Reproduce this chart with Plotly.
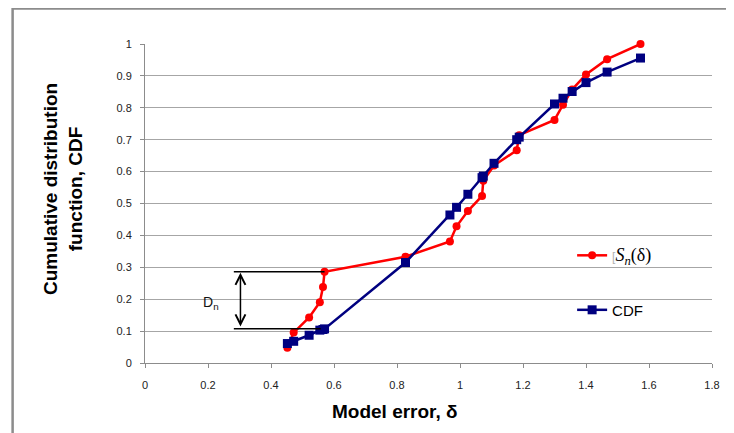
import plotly.graph_objects as go

# Data
model_error = [0.452, 0.472, 0.521, 0.555, 0.565, 0.570, 0.827, 0.968, 0.989, 1.025,
               1.070, 1.074, 1.108, 1.180, 1.188, 1.300, 1.327, 1.356, 1.400, 1.467, 1.573]
sn_values = [i / 21 for i in range(1, 22)]
cdf_values = [0.061, 0.068, 0.087, 0.103, 0.105, 0.107, 0.315, 0.464, 0.488, 0.529,
              0.581, 0.586, 0.626, 0.700, 0.708, 0.812, 0.830, 0.851, 0.879, 0.912, 0.956]
x_ticks = [0, 0.2, 0.4, 0.6, 0.8, 1.0, 1.2, 1.4, 1.6, 1.8]
y_ticks = [0, 0.1, 0.2, 0.3, 0.4, 0.5, 0.6, 0.7, 0.8, 0.9, 1.0]

# Dn = max |Sn - CDF|
diffs = [abs(s - c) for s, c in zip(sn_values, cdf_values)]
idx = diffs.index(max(diffs))
dn_upper = sn_values[idx]
dn_lower = cdf_values[idx]
dn_x_start = 0.282
dn_arrow_x = 0.303

RED = "#FF0000"
NAVY = "#000080"
GRID = "#A6A6A6"

fig = go.Figure()
fig.add_trace(go.Scatter(
    x=model_error, y=sn_values, mode="lines+markers",
    name="<span style='color:#b0b0b0;font-size:12px'>[</span><span style='font-family:Liberation Serif;font-size:18px'><i>S<sub>n</sub></i>(δ)</span>",
    line=dict(color=RED, width=2.5),
    marker=dict(symbol="circle", size=8, color=RED),
    cliponaxis=False, legendgroup="a",
))
fig.add_trace(go.Scatter(
    x=model_error, y=cdf_values, mode="lines+markers", name="CDF",
    line=dict(color=NAVY, width=2.5),
    marker=dict(symbol="square", size=9, color=NAVY),
    cliponaxis=False, legendgroup="b",
))

OFF = 8.0  # page body margin
W = 734.0 - OFF
H = 433.0 - OFF
# plot area in page pixels
L, R, T, B = 144.5, 712.0, 44.3, 362.7
pw, ph = R - L, B - T

def px(xp):
    return (xp - L) / pw

def py(yp):
    return (B - yp) / ph

shapes = [
    # chart border (Excel-style frame)
    dict(type="rect", xref="paper", yref="paper",
         x0=px(12), x1=px(760), y0=py(460), y1=py(OFF + 0.8),
         line=dict(color="#8C8C8C", width=2.5), fillcolor="rgba(0,0,0,0)", layer="above"),
    # legend mask
    dict(type="rect", xref="paper", yref="paper",
         x0=px(562), x1=px(668), y0=py(350), y1=py(215),
         line=dict(width=0), fillcolor="white", layer="between"),
    # Dn label mask
    dict(type="rect", xref="paper", yref="paper",
         x0=px(192), x1=px(233), y0=py(315), y1=py(290),
         line=dict(width=0), fillcolor="white", layer="between"),
    # Dn horizontal lines
    dict(type="line", xref="x", yref="y", x0=dn_x_start, x1=model_error[idx], y0=dn_upper, y1=dn_upper,
         line=dict(color="black", width=1.5), layer="above"),
    dict(type="line", xref="x", yref="y", x0=dn_x_start, x1=model_error[idx] - 0.012, y0=dn_lower, y1=dn_lower,
         line=dict(color="black", width=1.5), layer="above"),
]

annotations = [
    dict(x=dn_arrow_x, y=dn_upper - 0.003, ax=dn_arrow_x, ay=dn_lower + 0.003, xref="x", yref="y",
         axref="x", ayref="y", text="", showarrow=True, arrowside="end+start",
         arrowhead=5, startarrowhead=5, arrowsize=1.3, startarrowsize=1.3,
         arrowwidth=1.5, arrowcolor="black"),
    dict(x=0.208, y=0.188, xref="x", yref="y", text="D<sub>n</sub>", showarrow=False,
         font=dict(family="Liberation Sans", size=14, color="#111")),
    dict(x=px(62.5), y=py(189), xref="paper", yref="paper", textangle=-90,
         text="<b>Cumulative distribution<br>function, CDF</b>", showarrow=False,
         font=dict(family="Liberation Sans", size=19, color="black"),
         xanchor="center", yanchor="middle"),
    dict(x=px(395), y=py(411), xref="paper", yref="paper",
         text="<b>Model error, δ</b>", showarrow=False,
         font=dict(family="Liberation Sans", size=19, color="black"),
         xanchor="center", yanchor="middle"),
]

fig.update_layout(
    width=W, height=H,
    margin=dict(l=L - OFF, r=W - (R - OFF), t=T - OFF, b=H - (B - OFF), pad=0),
    paper_bgcolor="white", plot_bgcolor="white",
    showlegend=True,
    legend=dict(x=px(572), y=py(239), xanchor="left", yanchor="top",
                bgcolor="rgba(0,0,0,0)", borderwidth=0,
                font=dict(family="Liberation Sans", size=15, color="black"),
                tracegroupgap=32, itemwidth=30),
    shapes=shapes, annotations=annotations,
    xaxis=dict(range=[0, 1.8], tickvals=x_ticks, showgrid=False, zeroline=False,
               showline=True, linecolor="#8C8C8C", linewidth=1,
               ticks="outside", ticklen=4, tickcolor="#8C8C8C",
               tickfont=dict(family="Liberation Sans", size=11, color="#222"),
               ticklabelstandoff=8),
    yaxis=dict(range=[0, 1.0], tickvals=y_ticks, showgrid=True, gridcolor=GRID, gridwidth=1,
               zeroline=False, showline=True, linecolor="#8C8C8C", linewidth=1,
               ticks="outside", ticklen=4, tickcolor="#8C8C8C",
               tickfont=dict(family="Liberation Sans", size=11, color="#222"),
               ticklabelstandoff=6),
)

fig.write_html("out.html")
